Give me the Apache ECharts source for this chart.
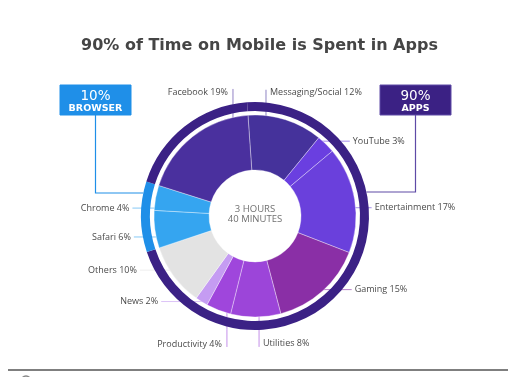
<!DOCTYPE html>
<html><head><meta charset="utf-8">
<script src="https://cdn.jsdelivr.net/npm/echarts@6/dist/echarts.min.js"></script>
<style>html,body{margin:0;padding:0;background:#fff}#c{width:519px;height:377px}</style>
</head><body><div id="c"></div>
<script>
// ---- data ----
const titleText = '90% of Time on Mobile is Spent in Apps';
const categories = ['Messaging/Social','YouTube','Entertainment','Gaming','Utilities','Productivity','News','Others','Safari','Chrome','Facebook'];
const shares = [12,3,17,15,8,4,2,10,6,4,19];
const groups = ['APPS','APPS','APPS','APPS','APPS','APPS','APPS','APPS','BROWSER','BROWSER','APPS'];
const centerLines = ['3 HOURS','40 MINUTES'];

// ---- style ----
const sliceColors = ['#45329b','#6a3fe0','#6a40dc','#8a2fa6','#9c45d9','#9f46dc','#c59cf2','#e3e3e3','#35a5f0','#35a5f0','#4a309e'];
const groupColors = {APPS:'#3b2185', BROWSER:'#1f8fe8'};
const CX = 255, CY = 216;
const R_IN = 46, R_OUT = 101, RING_IN = 105, RING_OUT = 114;
const START = -4; // degrees clockwise from top
// leader config: anchor angle (deg cw from top), anchor radius, direction, length, label side
const leaders = [
  {a:7.7, r:82, dir:'up', len:45, side:'right'},
  {a:40.9, r:99, dir:'right', len:30},
  {a:85, r:95, dir:'right', len:22},
  {a:137.4, r:100, dir:'right', len:29},
  {a:177.6, r:97, dir:'down', len:34, side:'right'},
  {a:196.3, r:100, dir:'down', len:35, side:'left'},
  {a:211.2, r:100, dir:'left', len:42},
  {a:231.5, r:87, dir:'left', len:47},
  {a:254.4, r:78, dir:'left', len:46},
  {a:275.9, r:77, dir:'left', len:46},
  {a:344.8, r:84, dir:'up', len:46, side:'left'}
];
const FONT = '"Open Sans", "Noto Sans", sans-serif';
const TITLE_FONT = '"DejaVu Sans", "Open Sans", sans-serif';

function tint(hex, t){
  const n = parseInt(hex.slice(1),16);
  const r=(n>>16)&255,g=(n>>8)&255,b=n&255;
  const f=c=>Math.round(c+(255-c)*t);
  return 'rgb('+f(r)+','+f(g)+','+f(b)+')';
}
function pt(a,r){const t=a*Math.PI/180;return [CX+r*Math.sin(t), CY-r*Math.cos(t)];}

const pieData = categories.map((c,i)=>({
  name:c, value:shares[i],
  itemStyle:{color:sliceColors[i]},
  labelLine:{lineStyle:{color:tint(sliceColors[i],0.4), width:1}}
}));

// ring: consecutive runs of groups
const ringData = [];
groups.forEach((g,i)=>{
  const last = ringData[ringData.length-1];
  if (last && last.group===g) last.value += shares[i];
  else ringData.push({group:g, name:g, value:shares[i], itemStyle:{color:groupColors[g]}});
});
const groupTotal = g => shares.reduce((s,v,i)=>s+(groups[i]===g?v:0),0);

// callout boxes
function ringX(y, side){const dy=y-CY;const dx=Math.sqrt(RING_OUT*RING_OUT-dy*dy);return side<0?CX-dx:CX+dx;}
const boxes = [
  {g:'BROWSER', x:60, y:85, w:71, h:30, lineY:193, side:-1, bg:'#1f8fe8', border:'#1f8fe8', line:'#1f8fe8'},
  {g:'APPS', x:380, y:85, w:71, h:30, lineY:192, side:1, bg:'#3b2184', border:'#5e4aa6', line:'#5e4aa6'}
];
const graphics = [];
boxes.forEach(b=>{
  const mx = b.x + b.w/2;
  graphics.push({type:'polyline', shape:{points:[[mx,b.y+b.h],[mx,b.lineY],[ringX(b.lineY,b.side),b.lineY]]}, style:{stroke:b.line, lineWidth:1.2, fill:null}, z:1});
  graphics.push({type:'rect', shape:{x:b.x,y:b.y,width:b.w,height:b.h}, style:{fill:b.bg, stroke:b.border, lineWidth:1}, z:2});
  graphics.push({type:'text', x:mx, y:b.y+11, style:{text:groupTotal(b.g)+'%', fill:'#fff', font:'500 13.5px '+TITLE_FONT, textAlign:'center', textVerticalAlign:'middle'}, z:3});
  graphics.push({type:'text', x:mx, y:b.y+23.5, style:{text:b.g, fill:'#fff', font:'bold 9.5px '+TITLE_FONT, textAlign:'center', textVerticalAlign:'middle'}, z:3});
});
centerLines.forEach((t,i)=>{
  graphics.push({type:'text', x:CX, y:CY-6.5+i*10, style:{text:t, fill:'#707070', font:'9.5px '+FONT, textAlign:'center', textVerticalAlign:'middle'}, z:5});
});
graphics.push({type:'line', shape:{x1:8,y1:370,x2:508,y2:370}, style:{stroke:'#555', lineWidth:1.5}});
graphics.push({type:'circle', shape:{cx:26,cy:381,r:5}, style:{stroke:'#888', lineWidth:1.5, fill:null}});

const chart = echarts.init(document.getElementById('c'), null, {renderer:'canvas'});
chart.setOption({
  backgroundColor:'#fff',
  animation:false,
  title:{text:titleText, left:'center', top:33, textStyle:{fontFamily:TITLE_FONT, fontSize:16, fontWeight:'bold', color:'#454545'}},
  graphic:graphics,
  series:[
    {
      type:'pie', center:[CX,CY], radius:[R_IN,R_OUT], startAngle:90-START, clockwise:true,
      silent:true, avoidLabelOverlap:false,
      itemStyle:{borderColor:'rgba(255,255,255,0.45)', borderWidth:0.8},
      label:{show:true, position:'outside', formatter:p=>p.name+' '+p.value+'%', color:'#4a4a4a', fontFamily:FONT, fontSize:9},
      labelLine:{show:true, length:5, length2:5},
      labelLayout:function(p){
        const L = leaders[p.dataIndex];
        const A = pt(L.a, L.r);
        let E, x, y, align;
        if (L.dir==='up'){ E=[A[0],A[1]-L.len]; y=E[1]+3; x=L.side==='left'?E[0]-5:E[0]+4; align=L.side==='left'?'right':'left'; }
        else if (L.dir==='down'){ E=[A[0],A[1]+L.len]; y=E[1]-3; x=L.side==='left'?E[0]-5:E[0]+4; align=L.side==='left'?'right':'left'; }
        else if (L.dir==='right'){ E=[A[0]+L.len,A[1]]; y=E[1]; x=E[0]+3; align='left'; }
        else { E=[A[0]-L.len,A[1]]; y=E[1]; x=E[0]-3; align='right'; }
        return {x:x, y:y, align:align, verticalAlign:'middle', labelLinePoints:[A,[(A[0]+E[0])/2,(A[1]+E[1])/2],E]};
      },
      data:pieData
    },
    {
      type:'pie', center:[CX,CY], radius:[RING_IN,RING_OUT], startAngle:90-START, clockwise:true,
      silent:true, label:{show:false}, labelLine:{show:false},
      data:ringData
    }
  ]
});
</script></body></html>
